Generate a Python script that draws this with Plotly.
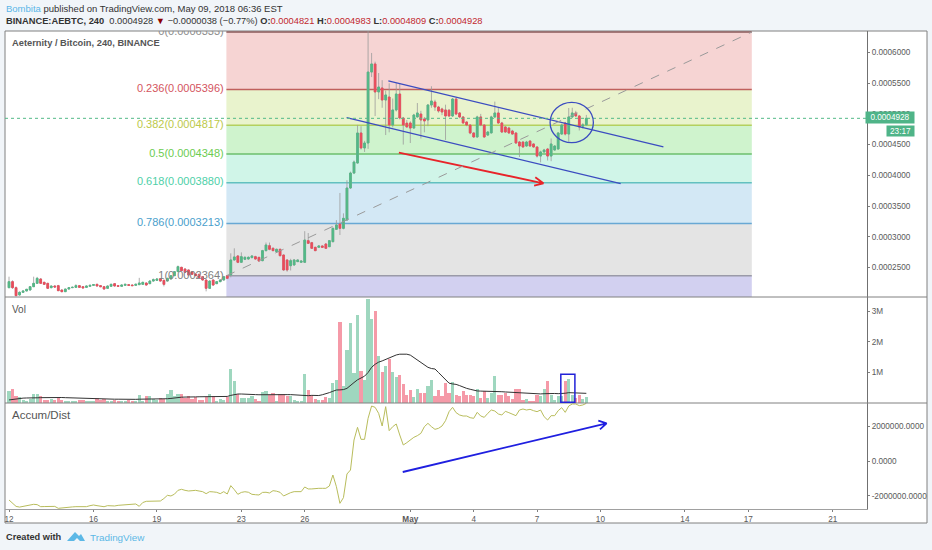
import numpy as np
import pandas as pd
import plotly.graph_objects as go
from plotly.subplots import make_subplots

# 4h bars, prices in units of 0.0000001 BTC
dates = pd.date_range("2018-04-12 00:00", periods=165, freq="4h")

opens = [2170,2268,2170,2051,2094,2116,2132,2186,2240,2311,2257,2240,2170,2197,2203,2132,2105,2148,2170,2175,2203,2186,2175,2192,2208,2224,2203,2186,2159,2192,2235,2203,2192,2208,2219,2213,2208,2219,2224,2246,2235,2278,2289,2311,2289,2278,2311,2365,2431,2501,2474,2458,2431,2393,2387,2349,2295,2159,2295,2235,2268,2295,2365,
         2377,2621,2686,2583,2632,2637,2659,2675,2664,2610,2773,2854,2811,2756,2795,2702,2621,2528,2539,2594,2583,2583,2936,2903,2827,2827,2849,2881,2838,2919,3120,3207,3136,
         3272,3793,4037,4200,4689,4445,4526,5682,5813,5357,5422,5226,5275,4819,5064,5324,4933,4850,4852,4770,4950,4998,4917,4901,5145,5194,5112,5080,5064,5060,4966,5242,5015,4950,4868,4819,4689,4624,4950,4819,4656,4690,4950,5015,4852,4787,4770,4721,4689,4542,4542,4477,4558,4510,4461,4314,4380,4428,4314,4412,4428,4672,4852,4672,4950,5015,4966,4800,4821]
closes = [2268,2170,2040,2094,2116,2143,2186,2240,2322,2240,2224,2159,2197,2181,2121,2105,2148,2170,2175,2203,2175,2165,2197,2208,2219,2197,2186,2148,2197,2224,2197,2192,2213,2224,2208,2203,2224,2246,2257,2213,2278,2300,2311,2278,2224,2322,2365,2431,2512,2447,2420,2376,2387,2365,2333,2295,2160,2278,2213,2268,2295,2349,2322,
          2621,2670,2583,2675,2664,2664,2686,2637,2604,2773,2865,2795,2773,2795,2691,2458,2458,2610,2621,2621,2604,2946,2892,2811,2773,2849,2827,2811,2936,3136,3191,3136,3299,
          3793,4037,4216,4689,4445,4526,5682,5813,5357,5438,5226,5308,4819,5064,5324,4933,4819,4787,4770,4982,5015,4901,4885,5145,5210,5112,5047,5031,4966,4966,5242,4998,4950,4852,4819,4689,4624,4950,4819,4624,4705,4950,5015,4852,4705,4705,4689,4672,4526,4477,4461,4542,4477,4461,4314,4380,4412,4314,4510,4477,4689,4819,4672,4950,5015,4966,4787,4821,4928]
highs = [2349,2290,2190,2110,2125,2150,2195,2349,2345,2325,2265,2250,2205,2210,2215,2140,2150,2175,2190,2225,2210,2195,2205,2215,2225,2235,2210,2195,2205,2235,2245,2210,2220,2230,2225,2220,2235,2330,2265,2255,2290,2320,2325,2320,2300,2330,2375,2440,2530,2510,2485,2465,2440,2405,2395,2360,2305,2290,2305,2275,2305,2355,2375,
         2729,2811,2700,2745,2680,2680,2700,2690,2670,2785,2905,2905,2825,2805,2805,2710,2630,2640,2635,2630,2615,3090,3060,2915,2835,2860,2860,2895,2945,3150,3270,3712,3380,
         3920,4060,4240,4820,4800,4560,6350,5992,5850,5666,5550,5380,5498,5250,5500,5500,4950,4900,4880,5000,5177,5050,4950,5160,5450,5230,5130,5100,5150,5080,5260,5260,5030,4960,4880,4830,4700,4970,5000,4830,4720,4970,5200,5110,4870,4800,4790,4740,4700,4560,4555,4560,4570,4520,4470,4400,4430,4445,4600,4490,4705,4840,4870,5096,5100,5050,4983,4850,4983]
lows = [2160,2150,2030,2040,2085,2110,2125,2180,2230,2235,2215,2150,2160,2175,2115,2095,2100,2140,2165,2170,2170,2160,2170,2190,2205,2190,2180,2140,2155,2185,2190,2185,2188,2205,2205,2198,2205,2215,2220,2205,2230,2270,2285,2270,2190,2270,2305,2360,2425,2440,2415,2370,2380,2360,2325,2285,2110,2150,2200,2230,2260,2285,2310,
        2338,2610,2570,2575,2620,2625,2650,2625,2595,2600,2760,2780,2765,2750,2680,2445,2430,2450,2530,2590,2578,2575,2885,2800,2765,2820,2820,2800,2830,2910,3110,3028,3120,
        3260,3780,4020,4190,4420,4380,4430,5600,4965,5240,5100,4656,4700,4780,5040,4910,4500,4780,4526,4760,4940,4600,4700,4800,5100,5050,5020,4980,4576,4950,4950,4980,4930,4840,4800,4670,4610,4610,4800,4610,4640,4680,4930,4840,4690,4690,4680,4660,4510,4298,4450,4465,4465,4450,4290,4210,4370,4240,4230,4400,4420,4660,4650,4547,4930,4950,4730,4760,4809]

# volume and its average, in thousands
volume = [383,459,240,186,87,55,131,306,306,219,87,87,120,87,175,109,44,44,44,44,87,87,44,66,66,175,98,142,44,33,98,55,66,55,109,44,55,262,77,219,219,131,109,153,142,295,437,219,295,306,153,219,131,197,109,87,197,306,240,66,131,109,197,
          1104,732,306,175,175,153,240,142,77,361,383,273,328,77,306,306,219,219,109,55,55,951,415,273,131,87,
          109,197,164,656,743,2650,546,1749,2623,984,2875,1038,765,3410,2754,3017,1530,1006,1202,1443,1006,853,929,634,273,437,197,470,328,328,547,765,219,437,219,656,328,689,273,219,383,273,273,240,459,164,383,164,328,874,273,273,328,219,142,459,459,87,131,77,77,273,219,459,732,273,87,240,219,710,798,273,164,273,131,197]
vol_avg = [100,120,135,150,160,165,160,160,170,175,180,185,185,185,185,180,
           175,170,165,160,150,145,140,135,130,130,130,130,130,128,125,125,120,120,120,120,
           120,125,125,130,130,135,135,130,130,140,150,170,180,190,195,205,205,200,205,205,200,200,200,205,205,205,215,
           250,285,295,295,295,285,280,275,270,268,270,280,280,278,275,275,275,275,270,265,250,235,240,250,250,245,
           270,300,340,385,426,430,440,480,590,670,760,830,880,1000,1170,1270,1340,1380,1430,1500,1550,1575,1600,1607,1600,1570,1490,1400,1310,1240,1170,1130,1115,1000,880,760,650,625,610,570,520,480,450,420,395,390,390,392,385,378,372,370,362,355,350,340,330,322,317,305,297,295,298,305,315,317,312,306,306,320,339,335,325,320,317,317]

# accumulation/distribution, in thousands
accum = [-2233,-2440,-2600,-2640,-2600,-2560,-2482,-2482,-2500,-2616,-2610,-2596,-2600,-2600,-2711,-2680,-2654,-2640,-2630,-2616,-2620,-2616,-2616,-2560,-2520,-2558,-2596,-2620,-2558,-2570,-2577,-2540,-2520,-2530,-2520,-2490,-2463,-2596,-2380,-2310,-2310,-2310,-2310,-2291,-2150,-1966,-2004,-1900,-1680,-1622,-1680,-1718,-1700,-1680,-1720,-1756,-1871,-1756,-1770,-1794,-1871,-1756,-1890,-1412,-1640,-1909,-1800,-1760,-1790,-1909,-1930,-1947,-1800,-1790,-1832,-1700,-1730,-1794,-2004,-1900,-1813,-1756,-1750,-1756,-1489,-1603,-1600,-1570,-1565,
         -1565,-1565,-1432,-802,-1470,-2425,-2100,-744,-515,1204,1930,1242,1242,2446,3152,3076,2732,2006,3114,1739,1968,2121,1490,918,1051,1204,1357,1452,1586,1968,2159,1968,1815,1872,2006,2312,2827,3076,2770,2636,2579,2579,2484,2446,2789,2579,2503,2732,2923,2866,2694,2636,2847,2770,2694,2598,2923,2980,2923,2961,2885,2827,2923,2541,2350,2598,2598,2885,3057,2789,3152,3267,3267,3171,3210,3305]

# fibonacci retracement
fib_start = "2018-04-22 07:00"
fib_end = "2018-05-17 04:00"
fib_label_x = "2018-04-22 04:00"
fib_ratios = ["0", "0.236", "0.382", "0.5", "0.618", "0.786", "1"]
fib_prices = [6333, 5396, 4817, 4348, 3880, 3213, 2364]
fib_fills = ["#f6d4d3", "#e9f3cd", "#cff3cd", "#d0f5e8", "#d3e8f5", "#e4e4e4", "#d2d0f0"]
fib_lines = ["#8a5a5a", "#c0605c", "#b4d05e", "#6cbf6c", "#62c0c0", "#68a8d4", "#9a9aa8"]
fib_text = ["#8c8c8c", "#d4545e", "#bcc94a", "#6ccc50", "#4ed0a8", "#4aa0cc", "#808080"]

last_price = 4928

# hand drawn lines on the chart
channel_up_x = ["2018-04-29 23:00", "2018-05-12 23:36"]
channel_up_y = [5536, 4461]
channel_lo_x = ["2018-04-27 23:36", "2018-05-10 23:00"]
channel_lo_y = [4938, 3863]
red_arrow_x = ["2018-04-30 11:00", "2018-05-07 07:12", "2018-05-06 22:00", "2018-05-07 07:12", "2018-05-06 20:40"]
red_arrow_y = [4368, 3870, 3967, 3870, 3831]
blue_arrow_x = ["2018-04-30 15:24", "2018-05-10 07:00", "2018-05-09 21:36", "2018-05-10 07:00", "2018-05-09 23:30"]
blue_arrow_y = [-630, 2160, 2310, 2160, 1817]

tick_dates = ["2018-04-12", "2018-04-16", "2018-04-19", "2018-04-23", "2018-04-26", "2018-05-01",
              "2018-05-04", "2018-05-07", "2018-05-10", "2018-05-14", "2018-05-17", "2018-05-21"]
tick_labels = ["12", "16", "19", "23", "26", "<b>May</b>", "4", "7", "10", "14", "17", "21"]
price_ticks = [2500, 3000, 3500, 4000, 4500, 5000, 5500, 6000]
vol_ticks = [1, 2, 3]
accum_ticks = [-2000000, 0, 2000000]

PX = 1e-7
GREEN, RED = "#53b987", "#eb4d5c"
FONT = "Liberation Sans"
TICK = dict(family=FONT, size=8.2, color="#5a5a5a")


def px(x):
    return (x - 5) / 862


def py(y):
    return (509 - y) / 478


o, c = np.array(opens) * PX, np.array(closes) * PX
up = np.array(closes) >= np.array(opens)

fig = make_subplots(rows=3, cols=1, shared_xaxes=True, vertical_spacing=0, row_heights=[266, 106, 106])

# wicks first, bodies on top so the wicks stay grey
fig.add_trace(go.Candlestick(x=dates, open=o, close=c, high=np.array(highs) * PX, low=np.array(lows) * PX,
                             increasing=dict(line=dict(color="#9a9a9a", width=0.8), fillcolor=GREEN),
                             decreasing=dict(line=dict(color="#9a9a9a", width=0.8), fillcolor=RED)), row=1, col=1)
fig.add_trace(go.Candlestick(x=dates, open=o, close=c, high=np.maximum(o, c), low=np.minimum(o, c),
                             increasing=dict(line=dict(color=GREEN, width=0.8), fillcolor=GREEN),
                             decreasing=dict(line=dict(color=RED, width=0.8), fillcolor=RED)), row=1, col=1)

fig.add_trace(go.Scatter(x=[fib_label_x] * 7, y=np.array(fib_prices) * PX, mode="text",
                         text=[f"{r}({p * PX:.7f})" for r, p in zip(fib_ratios, fib_prices)],
                         textposition="middle left", textfont=dict(family=FONT, size=11, color=fib_text)), row=1, col=1)

fig.add_trace(go.Scatter(x=channel_up_x, y=np.array(channel_up_y) * PX, mode="lines",
                         line=dict(color="#3b4cc0", width=1.3)), row=1, col=1)
fig.add_trace(go.Scatter(x=channel_lo_x, y=np.array(channel_lo_y) * PX, mode="lines",
                         line=dict(color="#3b4cc0", width=1.3)), row=1, col=1)
fig.add_trace(go.Scatter(x=red_arrow_x, y=np.array(red_arrow_y) * PX, mode="lines",
                         line=dict(color="#e8242a", width=1.8)), row=1, col=1)

fig.add_trace(go.Bar(x=dates, y=np.array(volume) * 1000, width=13000000,
                     marker=dict(color=np.where(up, "#9fd7bf", "#f59aa8"), line=dict(width=0))), row=2, col=1)
fig.add_trace(go.Scatter(x=dates, y=np.array(vol_avg) * 1000, mode="lines",
                         line=dict(color="#333333", width=1)), row=2, col=1)

fig.add_trace(go.Scatter(x=dates, y=np.array(accum) * 1000, mode="lines",
                         line=dict(color="#b9bd5c", width=1)), row=3, col=1)
fig.add_trace(go.Scatter(x=blue_arrow_x, y=np.array(blue_arrow_y) * 1000, mode="lines",
                         line=dict(color="#1f1fe0", width=1.8)), row=3, col=1)

shapes = []
# outer white panel with its frame
shapes.append(dict(type="rect", xref="paper", yref="paper", x0=0, x1=px(927), y0=py(523), y1=1,
                   fillcolor="white", line=dict(color="#808080", width=1), layer="below"))
for y in [297, 403]:
    shapes.append(dict(type="line", xref="paper", yref="paper", x0=0, x1=px(927), y0=py(y), y1=py(y),
                       line=dict(color="#808080", width=1)))

bottoms = fib_prices[1:] + [2018]
for top, bot, fill in zip(fib_prices, bottoms, fib_fills):
    shapes.append(dict(type="rect", xref="x", yref="y", x0=fib_start, x1=fib_end, y0=bot * PX, y1=top * PX,
                       fillcolor=fill, line=dict(width=0), layer="below"))
for price, col in zip(fib_prices, fib_lines):
    shapes.append(dict(type="line", xref="x", yref="y", x0=fib_start, x1=fib_end, y0=price * PX, y1=price * PX,
                       line=dict(color=col, width=1.5), layer="below"))
# trend line of the retracement
shapes.append(dict(type="line", xref="x", yref="y", x0=fib_start, x1=fib_end, y0=fib_prices[-1] * PX,
                   y1=fib_prices[0] * PX, line=dict(color="#9a9a9a", width=1, dash="dash")))
shapes.append(dict(type="line", xref="paper", yref="y", x0=0, x1=1, y0=last_price * PX, y1=last_price * PX,
                   line=dict(color=GREEN, width=1, dash="dot")))
# circle and volume box
shapes.append(dict(type="circle", xref="x", yref="y", x0="2018-05-07 14:48", x1="2018-05-09 16:00",
                   y0=4531 * PX, y1=5189 * PX, line=dict(color="#3b4cc0", width=1.3)))
shapes.append(dict(type="rect", xref="x", yref="y2", x0="2018-05-08 03:00", x1="2018-05-08 19:00",
                   y0=23000, y1=941000, line=dict(color="#2222d8", width=1.5)))
# tradingview logo
logo = [(67, 541), (75, 532), (79, 536), (81, 534), (85, 541), (80, 541), (77, 538), (74, 541)]
logo_path = "M " + " L ".join(f"{px(a):.5f} {py(b):.5f}" for a, b in logo) + " Z"
shapes.append(dict(type="path", xref="paper", yref="paper", path=logo_path,
                   fillcolor="#5cb8e6", line=dict(width=0)))


def note(x, y, text, size=11, color="#333333", family=FONT):
    return dict(xref="paper", yref="paper", x=px(x), y=py(y), text=text, showarrow=False, xanchor="left",
                yanchor="middle", align="left", xshift=-1, font=dict(family=family, size=size, color=color))


r = "#c2272d"
annotations = [
    note(5, 8, '<span style="color:#5bb5e8">Bombita</span> published on TradingView.com, May 09, 2018 06:36 EST', 9.5),
    note(5, 21, f'<b>BINANCE:AEBTC, 240</b>  0.0004928 <span style="color:#8b0000">▼</span> −0.0000038 (−0.77%) '
                f'<b>O:</b><span style="color:{r}">0.0004821</span> <b>H:</b><span style="color:{r}">0.0004983</span> '
                f'<b>L:</b><span style="color:{r}">0.0004809</span> <b>C:</b><span style="color:{r}">0.0004928</span>', 9.3),
    note(11, 43, "<b>Aeternity / Bitcoin, 240, BINANCE</b>", 9.3, "#555555"),
    note(11, 309, "Vol", 10, "#555555"),
    note(11, 415, "Accum/Dist", 11.5, "#555555"),
    note(5, 537, "<b>Created with</b>", 9.2, "#333333"),
    note(89, 537, "TradingView", 9.9, "#5cb8e6"),
    dict(xref="paper", yref="paper", x=px(865), y=py(118), width=48, height=11, text="0.0004928", showarrow=False,
         xanchor="left", yanchor="middle", borderpad=0, bgcolor="#4fb488", font=dict(family=FONT, size=8.2, color="white")),
    dict(xref="paper", yref="paper", x=px(886), y=py(130.5), width=27, height=10, text="23:17", showarrow=False,
         xanchor="left", yanchor="middle", borderpad=0, bgcolor="#4fb488", font=dict(family=FONT, size=8.2, color="white")),
]

fig.update_layout(width=932, height=550, margin=dict(l=5, r=65, t=31, b=41), showlegend=False, dragmode=False,
                  paper_bgcolor="#f1f5f9", plot_bgcolor="rgba(0,0,0,0)", bargap=0, shapes=shapes,
                  annotations=annotations, font=dict(family=FONT))

x_start, x_end = "2018-04-11 19:27", "2018-05-22 14:54"
for row in (1, 2, 3):
    fig.update_xaxes(row=row, col=1, type="date", range=[x_start, x_end], showgrid=False, zeroline=False,
                     rangeslider=dict(visible=False), tickmode="array", tickvals=tick_dates, ticktext=tick_labels,
                     showticklabels=row == 3, ticks="outside" if row == 3 else "", ticklen=2, tickcolor="#808080",
                     tickfont=TICK, showline=row == 3, linecolor="#a0a0a0", linewidth=1, automargin=False)

axis = dict(side="right", showgrid=False, zeroline=False, showline=True, linecolor="#707070", linewidth=1,
            ticks="outside", ticklen=2, tickcolor="#808080", tickfont=TICK, automargin=False)
fig.update_yaxes(row=1, col=1, range=[2018 * PX, 6350 * PX], tickmode="array",
                 tickvals=[t * PX for t in price_ticks], ticktext=[f"{t * PX:.7f}" for t in price_ticks], **axis)
fig.update_yaxes(row=2, col=1, range=[0, 3475000], tickmode="array",
                 tickvals=[t * 1000000 for t in vol_ticks], ticktext=[f"{t}M" for t in vol_ticks], **axis)
fig.update_yaxes(row=3, col=1, range=[-2750000, 3324000], tickmode="array",
                 tickvals=accum_ticks, ticktext=[f"{t:.4f}" for t in accum_ticks], **axis)

fig.write_html("out.html", config=dict(displayModeBar=False),
               post_script="document.body.style.margin='0';document.documentElement.style.overflow='hidden';")
